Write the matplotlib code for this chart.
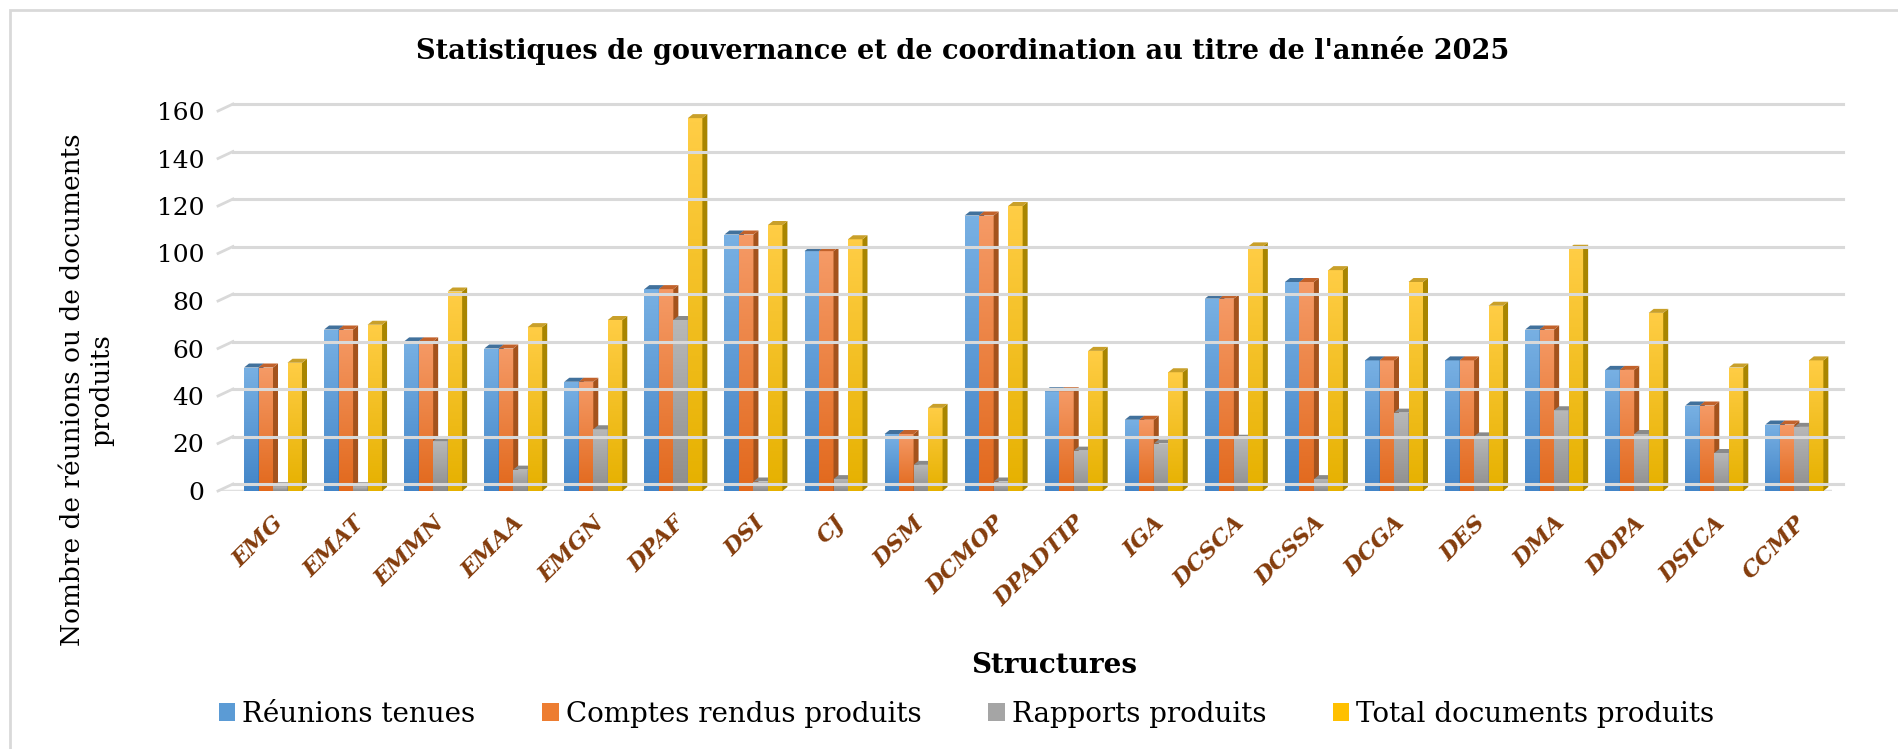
import numpy as np
import matplotlib
matplotlib.use("Agg")
import matplotlib.pyplot as plt
from matplotlib.patches import Polygon, Patch, Rectangle
from matplotlib.lines import Line2D
from matplotlib.colors import LinearSegmentedColormap

categories = ["EMG", "EMAT", "EMMN", "EMAA", "EMGN", "DPAF", "DSI", "CJ", "DSM", "DCMOP",
              "DPADTIP", "IGA", "DCSCA", "DCSSA", "DCGA", "DES", "DMA", "DOPA", "DSICA", "CCMP"]
reunions = [52, 68, 63, 60, 46, 85, 108, 101, 24, 116, 42, 30, 81, 88, 55, 55, 68, 51, 36, 28]
comptes_rendus = [52, 68, 63, 60, 46, 85, 108, 101, 24, 116, 42, 30, 81, 88, 55, 55, 68, 51, 36, 28]
rapports = [2, 2, 21, 9, 26, 72, 4, 5, 11, 4, 17, 20, 22, 5, 33, 23, 34, 24, 16, 27]
total_docs = [54, 70, 84, 69, 72, 157, 112, 106, 35, 120, 59, 50, 103, 93, 88, 78, 102, 75, 52, 55]
series_names = ["Réunions tenues", "Comptes rendus produits", "Rapports produits", "Total documents produits"]
yticks = [0, 20, 40, 60, 80, 100, 120, 140, 160]

title = "Statistiques de gouvernance et de coordination au titre de l'année 2025"
xlabel = "Structures"
ylabel = "Nombre de réunions ou de documents\nproduits"

# styles
top_cols = ["#78b0e3", "#f59a66", "#b8b8b8", "#ffcd45"]
bot_cols = ["#4285c8", "#e2691d", "#8e8e8e", "#e6b100"]
mid_cols = ["#5b9bd5", "#ed7d31", "#a5a5a5", "#ffc000"]
side_cols = ["#3a6c9e", "#a4531d", "#767676", "#a88500"]
roof_cols = ["#41719c", "#c2622b", "#8a8a8a", "#c9a02a"]

W, H = 1899, 749
fig = plt.figure(figsize=(W / 100, H / 100), dpi=100)
ax_l, ax_r, ax_b, ax_t = 218, 1832, 491, 111
ax = fig.add_axes([ax_l / W, 1 - ax_b / H, (ax_r - ax_l) / W, (ax_b - ax_t) / H])
ax.set_facecolor("none")

x = np.arange(len(categories))
ax.set_xlim(-0.687, len(categories) - 1 + 0.47)
ax.set_ylim(0, 160)

# pixel -> data conversions for depth effect
px_x = (ax.get_xlim()[1] - ax.get_xlim()[0]) / (ax_r - ax_l)
px_y = 160 / (ax_b - ax_t)
ddx, ddy = 5 * px_x, 4 * px_y

bw = 0.181
data = [reunions, comptes_rendus, rapports, total_docs]
offsets = [-1.5, -0.5, 0.5, 1.5]

grad = np.linspace(0, 1, 64).reshape(-1, 1)
for s, vals in enumerate(data):
    z = 3 + s
    cmap = LinearSegmentedColormap.from_list("g%d" % s, [bot_cols[s], top_cols[s]])
    bars = ax.bar(x + offsets[s] * bw, vals, width=bw, color=mid_cols[s], zorder=z,
                  linewidth=0)
    for b in bars:
        x0, w, h = b.get_x(), b.get_width(), b.get_height()
        im = ax.imshow(grad, extent=[x0, x0 + w, 0, h], origin="lower", aspect="auto",
                       cmap=cmap, zorder=z, interpolation="bilinear")
        im.set_clip_path(b)
        side = Polygon([(x0 + w, 0), (x0 + w, h), (x0 + w + ddx, h + ddy), (x0 + w + ddx, ddy)],
                       closed=True, facecolor=side_cols[s], edgecolor="none", zorder=z)
        roof = Polygon([(x0, h), (x0 + w, h), (x0 + w + ddx, h + ddy), (x0 + ddx, h + ddy)],
                       closed=True, facecolor=roof_cols[s], edgecolor="none", zorder=z)
        ax.add_patch(side)
        ax.add_patch(roof)

ax.set_xlim(-0.687, len(categories) - 1 + 0.47)
ax.set_ylim(0, 160)

for sp in ax.spines.values():
    sp.set_visible(False)

# back wall gridlines with small diagonal at the left
fig.canvas.draw()
for v in yticks:
    p0 = ax.transData.transform((ax.get_xlim()[0], v))
    p1 = ax.transData.transform((ax.get_xlim()[1], v))
    gx0, gy = p0[0] + 15, p0[1] + 7
    fig.add_artist(Line2D([p0[0], gx0], [p0[1], gy], transform=None, color="#d9d9d9",
                          lw=2, zorder=1))
    fig.add_artist(Line2D([gx0, p1[0] + 11], [gy, gy], transform=None, color="#d9d9d9",
                          lw=2.2, zorder=1))
# floor front edge
ax.axhline(0, color="#e0e0e0", lw=2.5, zorder=2)

ax.set_yticks(yticks)
ax.set_yticklabels([str(v) for v in yticks], fontsize=18, family="DejaVu Serif")
ax.tick_params(axis="y", length=0, pad=10)
ax.set_xticks(x)
ax.set_xticklabels(categories, rotation=45, ha="right", va="top", rotation_mode="anchor",
                   fontsize=16.5, family="DejaVu Serif", fontweight="bold", fontstyle="italic",
                   color="#843c0c")
ax.tick_params(axis="x", length=0, pad=15)

fig.text(0.507, 0.932, title, ha="center", va="center", fontsize=19.5,
         family="DejaVu Serif", fontweight="bold")
fig.text(0.555, 0.111, xlabel, ha="center", va="center", fontsize=20,
         family="DejaVu Serif", fontweight="bold")
fig.text(87 / W, 1 - 390 / H, ylabel, ha="center", va="center", rotation=90, fontsize=19,
         family="DejaVu Serif", multialignment="center", linespacing=1.2)

handles = [Patch(facecolor=mid_cols[i], edgecolor="none") for i in range(4)]
leg = fig.legend(handles, series_names, loc="center", bbox_to_anchor=(0.509, 1 - 714 / H),
                 ncol=4, frameon=False, prop={"family": "DejaVu Serif", "size": 20},
                 handlelength=0.6, handleheight=0.6, handletextpad=0.25, columnspacing=2.4)

# chart area border (top and left visible)
fig.add_artist(Rectangle((10 / W, -0.05), 1.1, 1 - 10 / H + 0.05, transform=fig.transFigure,
                         fill=False, edgecolor="#d9d9d9", lw=2, zorder=0))

fig.savefig("out.png", dpi=100, facecolor="white")
